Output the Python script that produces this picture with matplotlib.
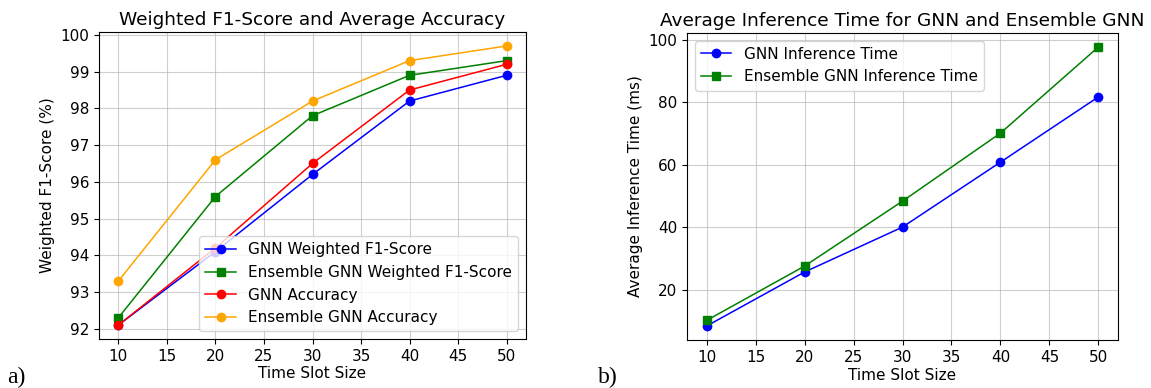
import numpy as np
import matplotlib.pyplot as plt

slots = [10, 20, 30, 40, 50]

gnn_f1 = [92.1, 94.1, 96.2, 98.2, 98.9]
ens_f1 = [92.3, 95.6, 97.8, 98.9, 99.3]
gnn_acc = [92.1, 94.2, 96.5, 98.5, 99.2]
ens_acc = [93.3, 96.6, 98.2, 99.3, 99.7]

gnn_time = [8.3, 25.6, 40.0, 60.8, 81.7]
ens_time = [10.1, 27.5, 48.3, 70.1, 97.7]

plt.rcParams['font.size'] = 11

W, H = 1151, 388
fig = plt.figure(figsize=(W / 100, H / 100), dpi=100)
ax1 = fig.add_axes([99 / W, (H - 339) / H, 427 / W, 307 / H])
ax2 = fig.add_axes([687 / W, (H - 340) / H, 431 / W, 307 / H])

ms = 6
lw = 1.1
ax1.plot(slots, gnn_f1, marker="o", color="blue", lw=lw, ms=ms, label="GNN Weighted F1-Score")
ax1.plot(slots, ens_f1, marker="s", color="green", lw=lw, ms=ms, label="Ensemble GNN Weighted F1-Score")
ax1.plot(slots, gnn_acc, marker="o", color="red", lw=lw, ms=ms, label="GNN Accuracy")
ax1.plot(slots, ens_acc, marker="o", color="orange", lw=lw, ms=ms, label="Ensemble GNN Accuracy")
ax1.set_title("Weighted F1-Score and Average Accuracy", fontsize=13.3, pad=5)
ax1.set_xlabel("Time Slot Size", labelpad=2)
ax1.set_ylabel("Weighted F1-Score (%)")
ax1.set_xticks(range(10, 55, 5))
ax1.grid(True, alpha=0.6)
ax1.legend(loc="lower right", fontsize=11)

ax2.plot(slots, gnn_time, marker="o", color="blue", lw=lw, ms=ms, label="GNN Inference Time")
ax2.plot(slots, ens_time, marker="s", color="green", lw=lw, ms=ms, label="Ensemble GNN Inference Time")
ax2.set_title("Average Inference Time for GNN and Ensemble GNN", fontsize=13.3, pad=5)
ax2.set_xlabel("Time Slot Size", labelpad=2)
ax2.set_ylabel("Average Inference Time (ms)")
ax2.set_xticks(range(10, 55, 5))
ax2.grid(True, alpha=0.6)
ax2.legend(loc="upper left", fontsize=11)

fig.text(7 / W, 5 / H, "a)", family="Liberation Serif", fontsize=17)
fig.text(598 / W, 5 / H, "b)", family="Liberation Serif", fontsize=17)

plt.savefig("out.png", dpi=100)
plt.close()
